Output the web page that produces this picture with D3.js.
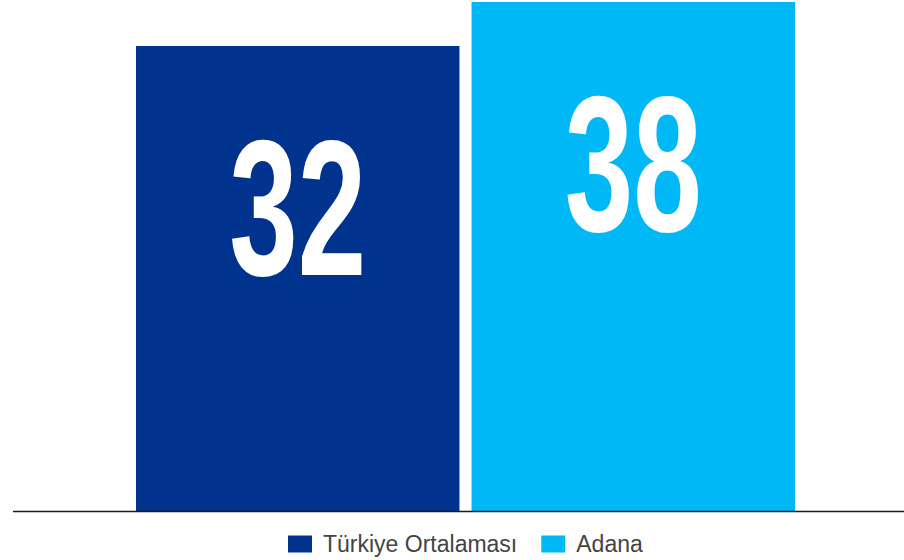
<!DOCTYPE html>
<html>
<head>
<meta charset="utf-8">
<script src="https://cdn.jsdelivr.net/npm/d3@7"></script>
<style>
  html, body { margin: 0; padding: 0; background: #fff; }
  svg { display: block; }
</style>
</head>
<body>
<div id="chart"></div>
<script>
// data
var categories = ["Türkiye Ortalaması", "Adana"];
var values = [32, 38];
var colors = ["#00338D", "#00B8F5"];
// value axis is not zero based in the original
var yDomain = [-31.4, 38];

var width = 904,
	height = 560;

var svg = d3.select("#chart").append("svg")
	.attr("width", width)
	.attr("height", height);

var x = d3.scaleBand()
	.domain(categories)
	.range([136, 795])
	.paddingInner(0.036)
	.paddingOuter(0);

var y = d3.scaleLinear()
	.domain(yDomain)
	.range([511, 2]);

// bars
svg.selectAll(".bar")
	.data(values)
	.enter()
	.append("rect")
	.attr("class", "bar")
	.attr("x", function(d, i){ return x(categories[i]); })
	.attr("y", function(d){ return y(d); })
	.attr("width", x.bandwidth())
	.attr("height", function(d){ return y(yDomain[0]) - y(d); })
	.attr("fill", function(d, i){ return colors[i]; });

// big value labels
svg.selectAll(".value")
	.data(values)
	.enter()
	.append("text")
	.attr("class", "value")
	.attr("x", function(d, i){ return x(categories[i]) + x.bandwidth() / 2; })
	.attr("y", function(d){ return y(d) + 229; })
	.attr("text-anchor", "middle")
	.attr("font-family", "'Liberation Sans Narrow', 'Liberation Sans', Arial, sans-serif")
	.attr("font-weight", "bold")
	.attr("font-size", 193)
	.attr("textLength", 137)
	.attr("lengthAdjust", "spacingAndGlyphs")
	.attr("fill", "#fff")
	.text(function(d){ return d; });

// baseline
svg.append("line")
	.attr("x1", 13)
	.attr("x2", width)
	.attr("y1", y(yDomain[0]) + 0.5)
	.attr("y2", y(yDomain[0]) + 0.5)
	.attr("stroke", "#1a1a1a")
	.attr("stroke-width", 1.5);

// legend
var legend = svg.append("g").attr("class", "legend");
var lx = 288;
categories.forEach(function(c, i){
	var item = legend.append("g").attr("transform", "translate(" + lx + ",0)");
	item.append("rect")
		.attr("x", 0)
		.attr("y", 535.5)
		.attr("width", 24)
		.attr("height", 17)
		.attr("fill", colors[i]);
	var t = item.append("text")
		.attr("x", 35)
		.attr("y", 552)
		.attr("font-family", "'Liberation Sans', Arial, sans-serif")
		.attr("font-size", 23)
		.attr("fill", "#444")
		.text(c);
	lx += 35 + t.node().getComputedTextLength() + 24;
});
</script>
</body>
</html>
